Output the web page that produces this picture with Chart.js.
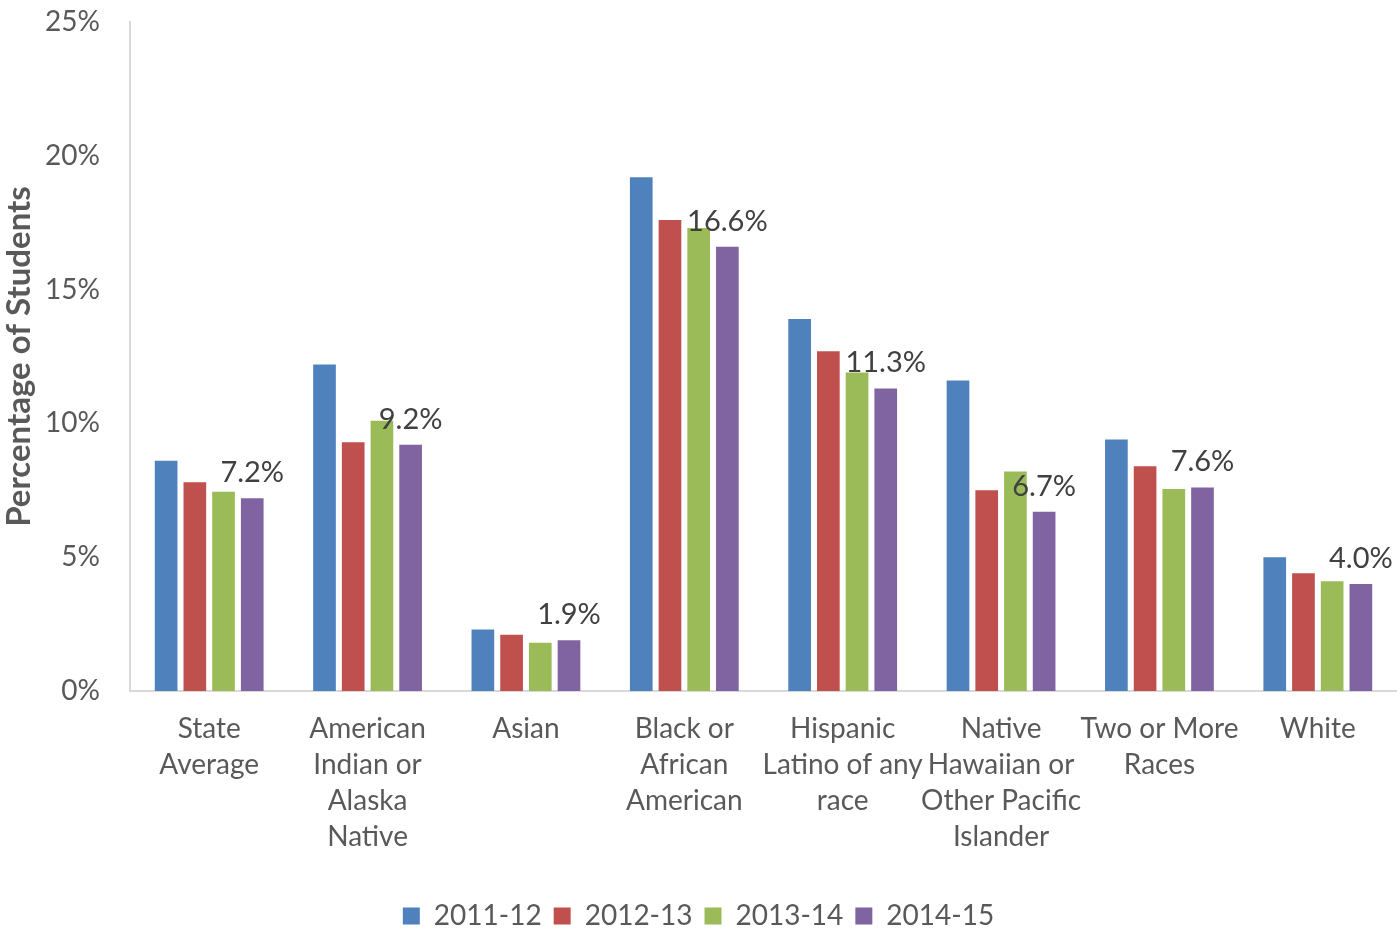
<!DOCTYPE html>
<html>
<head>
    <meta charset="UTF-8">
    <title>Percentage of Students</title>
    <script src="https://cdn.jsdelivr.net/npm/chart.js"></script>
    <style>
        body { margin: 0; background: #fff; }
        #wrap { width: 1397px; height: 929px; }
    </style>
</head>
<body>
    <div id="wrap">
        <canvas id="myChart"></canvas>
    </div>
    <script>
        const categories = [
            ['State', 'Average'],
            ['American', 'Indian or', 'Alaska', 'Native'],
            ['Asian'],
            ['Black or', 'African', 'American'],
            ['Hispanic', 'Latino of any', 'race'],
            ['Native', 'Hawaiian or', 'Other Pacific', 'Islander'],
            ['Two or More', 'Races'],
            ['White']
        ];
        const years = ['2011-12', '2012-13', '2013-14', '2014-15'];
        const values2011 = [8.6, 12.2, 2.3, 19.2, 13.9, 11.6, 9.4, 5.0];
        const values2012 = [7.8, 9.3, 2.1, 17.6, 12.7, 7.5, 8.4, 4.4];
        const values2013 = [7.45, 10.1, 1.8, 17.3, 11.9, 8.2, 7.55, 4.1];
        const values2014 = [7.2, 9.2, 1.9, 16.6, 11.3, 6.7, 7.6, 4.0];
        const yTicks = [0, 5, 10, 15, 20, 25];
        const colors = ['#4F81BD', '#C0504D', '#9BBB59', '#8064A2'];

        const textFont = 'Lato, "Open Sans", sans-serif';

        // labels only on the last series, like the original
        const lastSeriesLabels = {
            id: 'lastSeriesLabels',
            afterDatasetsDraw(chart) {
                const ctx = chart.ctx;
                const idx = chart.data.datasets.length - 1;
                const meta = chart.getDatasetMeta(idx);
                ctx.save();
                ctx.font = '29px ' + textFont;
                ctx.fillStyle = '#404040';
                ctx.textAlign = 'center';
                ctx.textBaseline = 'bottom';
                meta.data.forEach((bar, i) => {
                    const v = chart.data.datasets[idx].data[i];
                    ctx.fillText(v.toFixed(1) + '%', bar.x, bar.y - 11);
                });
                ctx.restore();
            }
        };

        const allSeries = [values2011, values2012, values2013, values2014];

        const ctx = document.getElementById('myChart').getContext('2d');
        const myChart = new Chart(ctx, {
            type: 'bar',
            data: {
                labels: categories,
                datasets: allSeries.map((vals, i) => ({
                    label: years[i],
                    data: vals,
                    backgroundColor: colors[i],
                    categoryPercentage: 0.725,
                    barPercentage: 0.79
                }))
            },
            plugins: [lastSeriesLabels],
            options: {
                responsive: true,
                maintainAspectRatio: false,
                animation: false,
                layout: {
                    padding: { top: 22, right: 0, bottom: -11, left: 0 }
                },
                plugins: {
                    tooltip: { enabled: false },
                    legend: {
                        position: 'bottom',
                        labels: {
                            boxWidth: 17,
                            boxHeight: 17,
                            padding: 12,
                            color: '#595959',
                            font: { family: textFont, size: 28 }
                        }
                    }
                },
                scales: {
                    x: {
                        grid: { display: false },
                        border: { color: '#D9D9D9', width: 2 },
                        ticks: {
                            color: '#595959',
                            font: { family: textFont, size: 28, lineHeight: 1.29 },
                            maxRotation: 0,
                            autoSkip: false,
                            padding: 12
                        },
                        afterFit: s => { s.height = 199; s.paddingLeft = 0; s.paddingRight = 0; }
                    },
                    y: {
                        min: 0,
                        max: 25,
                        afterBuildTicks: s => { s.ticks = yTicks.map(v => ({ value: v })); },
                        grid: { display: false },
                        border: { color: '#D9D9D9', width: 2 },
                        ticks: {
                            color: '#595959',
                            font: { family: textFont, size: 28 },
                            padding: 22,
                            callback: v => v + '%'
                        },
                        title: {
                            display: true,
                            text: 'Percentage of Students',
                            color: '#595959',
                            font: { family: textFont, size: 33, weight: 'bold' },
                            padding: { top: 0, bottom: 0 }
                        },
                        afterFit: s => { s.width = 130; s.paddingTop = 0; s.paddingBottom = 0; }
                    }
                }
            }
        });
    </script>
</body>
</html>
